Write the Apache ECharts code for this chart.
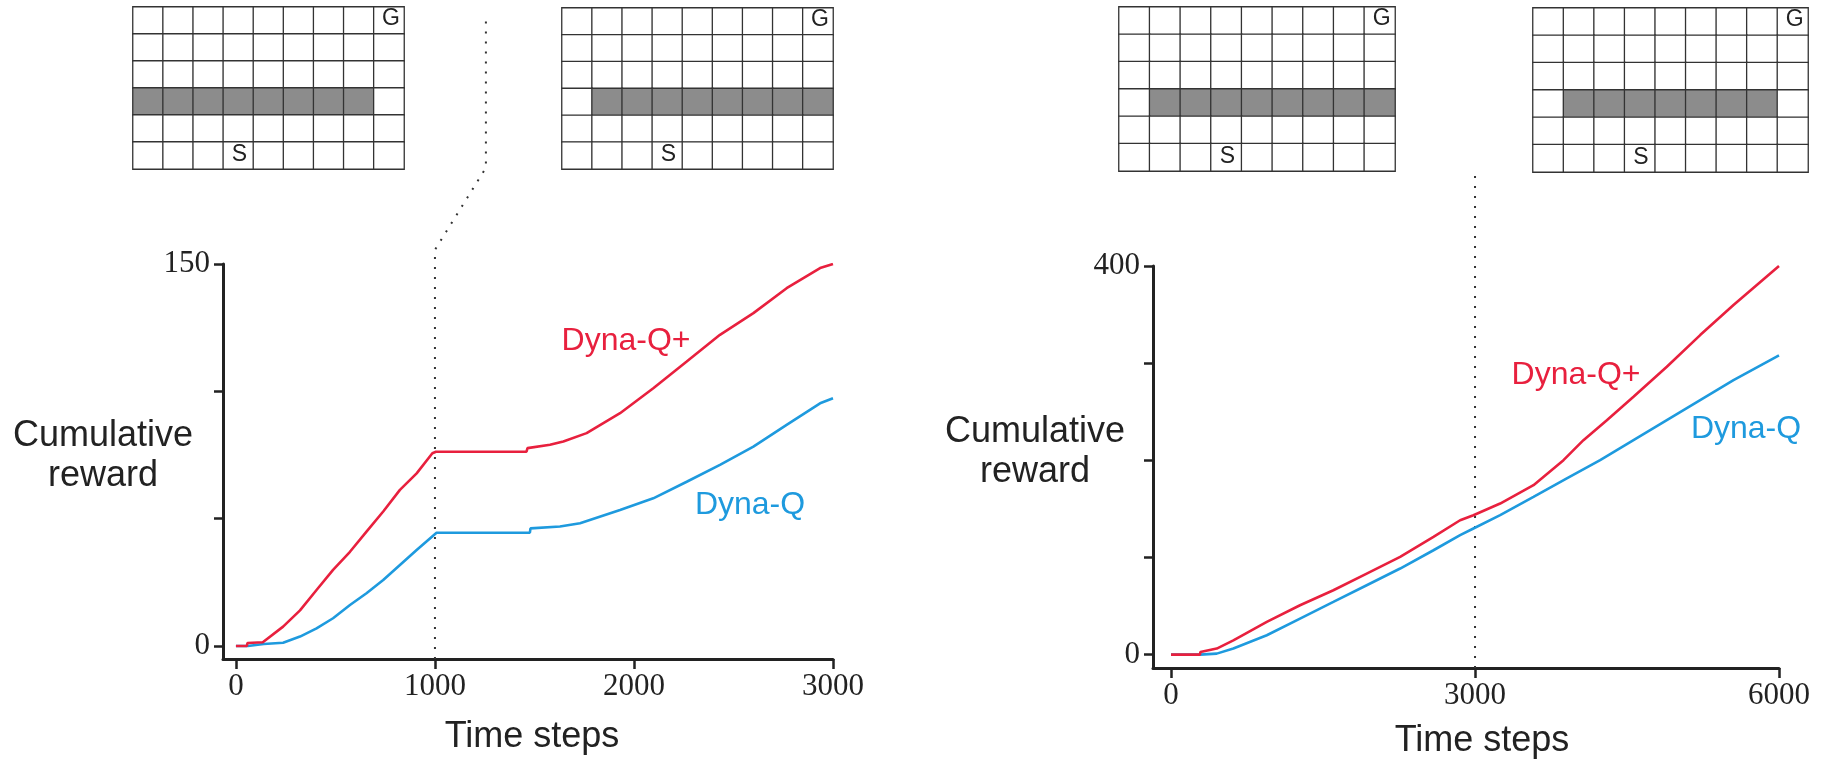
<!DOCTYPE html>
<html>
<head>
<meta charset="utf-8">
<script src="https://cdn.jsdelivr.net/npm/echarts@6.0.0/dist/echarts.min.js"></script>
<style>
	html, body { margin: 0; padding: 0; background: #fff; }
	#chart { width: 1827px; height: 761px; }
</style>
</head>
<body>
<div id="chart"></div>
<script>
// maze layout (9 x 6 cells), wall row and its blocked columns
const MAZE_COLS = 9;
const MAZE_ROWS = 6;
const WALL_ROW = 3;
const START_CELL = [3, 5];
const GOAL_CELL = [8, 0];
const blockingWallBefore = [0, 1, 2, 3, 4, 5, 6, 7];
const blockingWallAfter = [1, 2, 3, 4, 5, 6, 7, 8];
const shortcutWallBefore = [1, 2, 3, 4, 5, 6, 7, 8];
const shortcutWallAfter = [1, 2, 3, 4, 5, 6, 7];

// blocking maze (left)
const blockingTicksX = [0, 1000, 2000, 3000];
const blockingTicksY = [0, 50, 100, 150];
const blockingLabelsY = [0, 150];
const blockingChange = 1000;

const blockingPlusSteps = [0, 55, 58, 135, 237, 322, 405, 488, 573, 656, 740, 824, 908, 987, 1005, 1460, 1465, 1578, 1645, 1762, 1930, 2097, 2265, 2432, 2600, 2767, 2935, 3000];
const blockingPlusReward = [0, 0, 1.2, 1.5, 7.6, 14, 22, 29.9, 37, 44.9, 52.8, 61.3, 67.8, 75.7, 76.3, 76.3, 77.7, 79, 80.3, 83.6, 91.4, 101.2, 111.7, 122.2, 130.7, 140.5, 148.4, 150];

const blockingQSteps = [0, 60, 140, 237, 322, 405, 488, 573, 656, 740, 824, 908, 1008, 1477, 1480, 1628, 1729, 1930, 2097, 2265, 2432, 2600, 2767, 2935, 3000];
const blockingQReward = [0, 0, 0.8, 1.3, 3.7, 6.9, 10.9, 16.1, 20.7, 25.9, 31.8, 37.7, 44.5, 44.5, 46.2, 46.9, 48.2, 53.4, 58, 64.5, 71.1, 78.3, 86.8, 95.3, 97.3];

// shortcut maze (right)
const shortcutTicksX = [0, 3000, 6000];
const shortcutTicksY = [0, 100, 200, 300, 400];
const shortcutLabelsY = [0, 400];
const shortcutChange = 3000;

const shortcutPlusSteps = [0, 286, 290, 451, 615, 945, 1273, 1602, 1931, 2261, 2590, 2853, 2984, 3248, 3577, 3873, 4070, 4301, 4564, 4893, 5222, 5551, 6000];
const shortcutPlusReward = [0, 0, 2.7, 6.2, 14.7, 33.6, 50.8, 66.2, 83.4, 100.5, 121.1, 138.3, 143.5, 155.5, 174.4, 200.1, 220.7, 241.3, 265.4, 296.3, 328.9, 359.8, 400];

const shortcutQSteps = [0, 286, 451, 615, 945, 1273, 1602, 1931, 2261, 2590, 2853, 2984, 3248, 3577, 3906, 4235, 4564, 4893, 5222, 5551, 6000];
const shortcutQReward = [0, 0, 1, 6.2, 19.9, 37.1, 54.2, 71.4, 88.6, 107.4, 122.9, 129.8, 143.5, 162.3, 181.3, 200.1, 220.7, 241.3, 261.9, 282.5, 308];

const RED = '#e8203e';
const BLUE = '#1e9ade';
const INK = '#222';
const SERIF = '"Liberation Serif", "DejaVu Serif", serif';
const SANS = '"Liberation Sans", Arial, sans-serif';

function pairs(xs, ys) {
	return xs.map((x, i) => [x, ys[i]]);
}

function mazeCells(wallCols) {
	const cells = [];
	const mark = { show: true, fontFamily: SANS, fontSize: 23, color: INK };
	for (let r = 0; r < MAZE_ROWS; r++) {
		for (let c = 0; c < MAZE_COLS; c++) {
			const isWall = r === WALL_ROW && wallCols.indexOf(c) >= 0;
			const item = { value: [c, r, isWall ? 1 : 0] };
			if (c === START_CELL[0] && r === START_CELL[1]) {
				item.label = Object.assign({ formatter: 'S', offset: [1, -1] }, mark);
			} else if (c === GOAL_CELL[0] && r === GOAL_CELL[1]) {
				item.label = Object.assign({ formatter: 'G', offset: [2, -2] }, mark);
			}
			cells.push(item);
		}
	}
	return cells;
}

const mazeBoxes = [
	{ left: 133, top: 7, width: 271, height: 162 },
	{ left: 562, top: 8, width: 271, height: 161 },
	{ left: 1119, top: 7, width: 276, height: 164 },
	{ left: 1533, top: 8, width: 275, height: 164 }
];
const mazeWalls = [blockingWallBefore, blockingWallAfter, shortcutWallBefore, shortcutWallAfter];

const colNames = Array.from({ length: MAZE_COLS }, (_, i) => String(i));
const rowNames = Array.from({ length: MAZE_ROWS }, (_, i) => String(i));

const grids = [];
const xAxes = [];
const yAxes = [];
const series = [];

mazeBoxes.forEach((box, i) => {
	grids.push(Object.assign({ outerBoundsMode: 'none' }, box));
	xAxes.push({ type: 'category', gridIndex: i, data: colNames, show: false });
	yAxes.push({ type: 'category', gridIndex: i, data: rowNames, inverse: true, show: false });
	series.push({
		type: 'heatmap',
		xAxisIndex: i,
		yAxisIndex: i,
		data: mazeCells(mazeWalls[i]),
		silent: true,
		itemStyle: { borderColor: '#333', borderWidth: 1.3 },
		label: { show: false, fontFamily: SANS, fontSize: 23, color: INK },
		emphasis: { disabled: true }
	});
});

const plainNumber = (v) => String(v);

function rewardAxes(gridIndex, xMin, xMax, xTicks, yMin, yMax, yTicks, yLabels) {
	const axisLine = { show: true, onZero: false, lineStyle: { color: INK, width: 3 } };
	xAxes.push({
		type: 'value', gridIndex: gridIndex, min: xMin, max: xMax,
		axisLine: axisLine,
		axisTick: { show: true, length: 10, lineStyle: { color: INK, width: 2.5 }, customValues: xTicks },
		axisLabel: { customValues: xTicks, formatter: plainNumber, fontFamily: SERIF, fontSize: 31, color: INK, margin: 12 },
		splitLine: { show: false }
	});
	yAxes.push({
		type: 'value', gridIndex: gridIndex, min: yMin, max: yMax,
		axisLine: axisLine,
		axisTick: { show: true, length: 9, lineStyle: { color: INK, width: 2.5 }, customValues: yTicks },
		axisLabel: { customValues: yLabels, formatter: plainNumber, fontFamily: SERIF, fontSize: 31, color: INK, margin: 13 },
		splitLine: { show: false }
	});
}

grids.push({ left: 223, top: 264, width: 610, height: 395, outerBoundsMode: 'none' });
rewardAxes(4, -65, 3000, blockingTicksX, -5.1, 150, blockingTicksY, blockingLabelsY);
grids.push({ left: 1153, top: 266, width: 626, height: 402, outerBoundsMode: 'none' });
rewardAxes(5, -178, 6000, shortcutTicksX, -13.8, 400, shortcutTicksY, shortcutLabelsY);

function curve(axisIndex, data, color) {
	return {
		type: 'line', xAxisIndex: axisIndex, yAxisIndex: axisIndex,
		data: data, showSymbol: false, symbol: 'none', silent: true,
		lineStyle: { color: color, width: 2.6 }
	};
}

function changeMarker(axisIndex, data) {
	return {
		type: 'line', xAxisIndex: axisIndex, yAxisIndex: axisIndex,
		data: data, showSymbol: false, symbol: 'none', silent: true, clip: false, z: 1,
		lineStyle: { color: '#333', width: 2, type: [2, 8] }
	};
}

// dotted line marking the moment the maze changes; on the left it bends up to the gap between the mazes
series.push(changeMarker(4, [[blockingChange, -5.1], [blockingChange, 155.6], [1256, 187.8], [1256, 248]]));
series.push(curve(4, pairs(blockingQSteps, blockingQReward), BLUE));
series.push(curve(4, pairs(blockingPlusSteps, blockingPlusReward), RED));

series.push(changeMarker(5, [[shortcutChange, -13.8], [shortcutChange, 494]]));
series.push(curve(5, pairs(shortcutQSteps, shortcutQReward), BLUE));
series.push(curve(5, pairs(shortcutPlusSteps, shortcutPlusReward), RED));

function text(x, y, str, color, size, extra) {
	return {
		type: 'text', x: x, y: y, silent: true,
		style: Object.assign({
			text: str, fill: color, font: size + 'px ' + SANS,
			textAlign: 'center', textVerticalAlign: 'middle'
		}, extra || {})
	};
}

const chart = echarts.init(document.getElementById('chart'), null, { renderer: 'canvas' });
chart.setOption({
	animation: false,
	backgroundColor: '#fff',
	grid: grids,
	xAxis: xAxes,
	yAxis: yAxes,
	visualMap: [{
		type: 'piecewise', show: false, seriesIndex: [0, 1, 2, 3], dimension: 2,
		pieces: [{ value: 0, color: '#ffffff' }, { value: 1, color: '#8c8c8c' }]
	}],
	series: series,
	graphic: [
		text(103, 456, 'Cumulative\nreward', INK, 36, { lineHeight: 40 }),
		text(1035, 452, 'Cumulative\nreward', INK, 36, { lineHeight: 40 }),
		text(532, 737, 'Time steps', INK, 36),
		text(1482, 741, 'Time steps', INK, 36),
		text(626, 341, 'Dyna-Q+', RED, 32),
		text(750, 505, 'Dyna-Q', BLUE, 32),
		text(1576, 375, 'Dyna-Q+', RED, 32),
		text(1746, 429, 'Dyna-Q', BLUE, 32)
	]
});
</script>
</body>
</html>
